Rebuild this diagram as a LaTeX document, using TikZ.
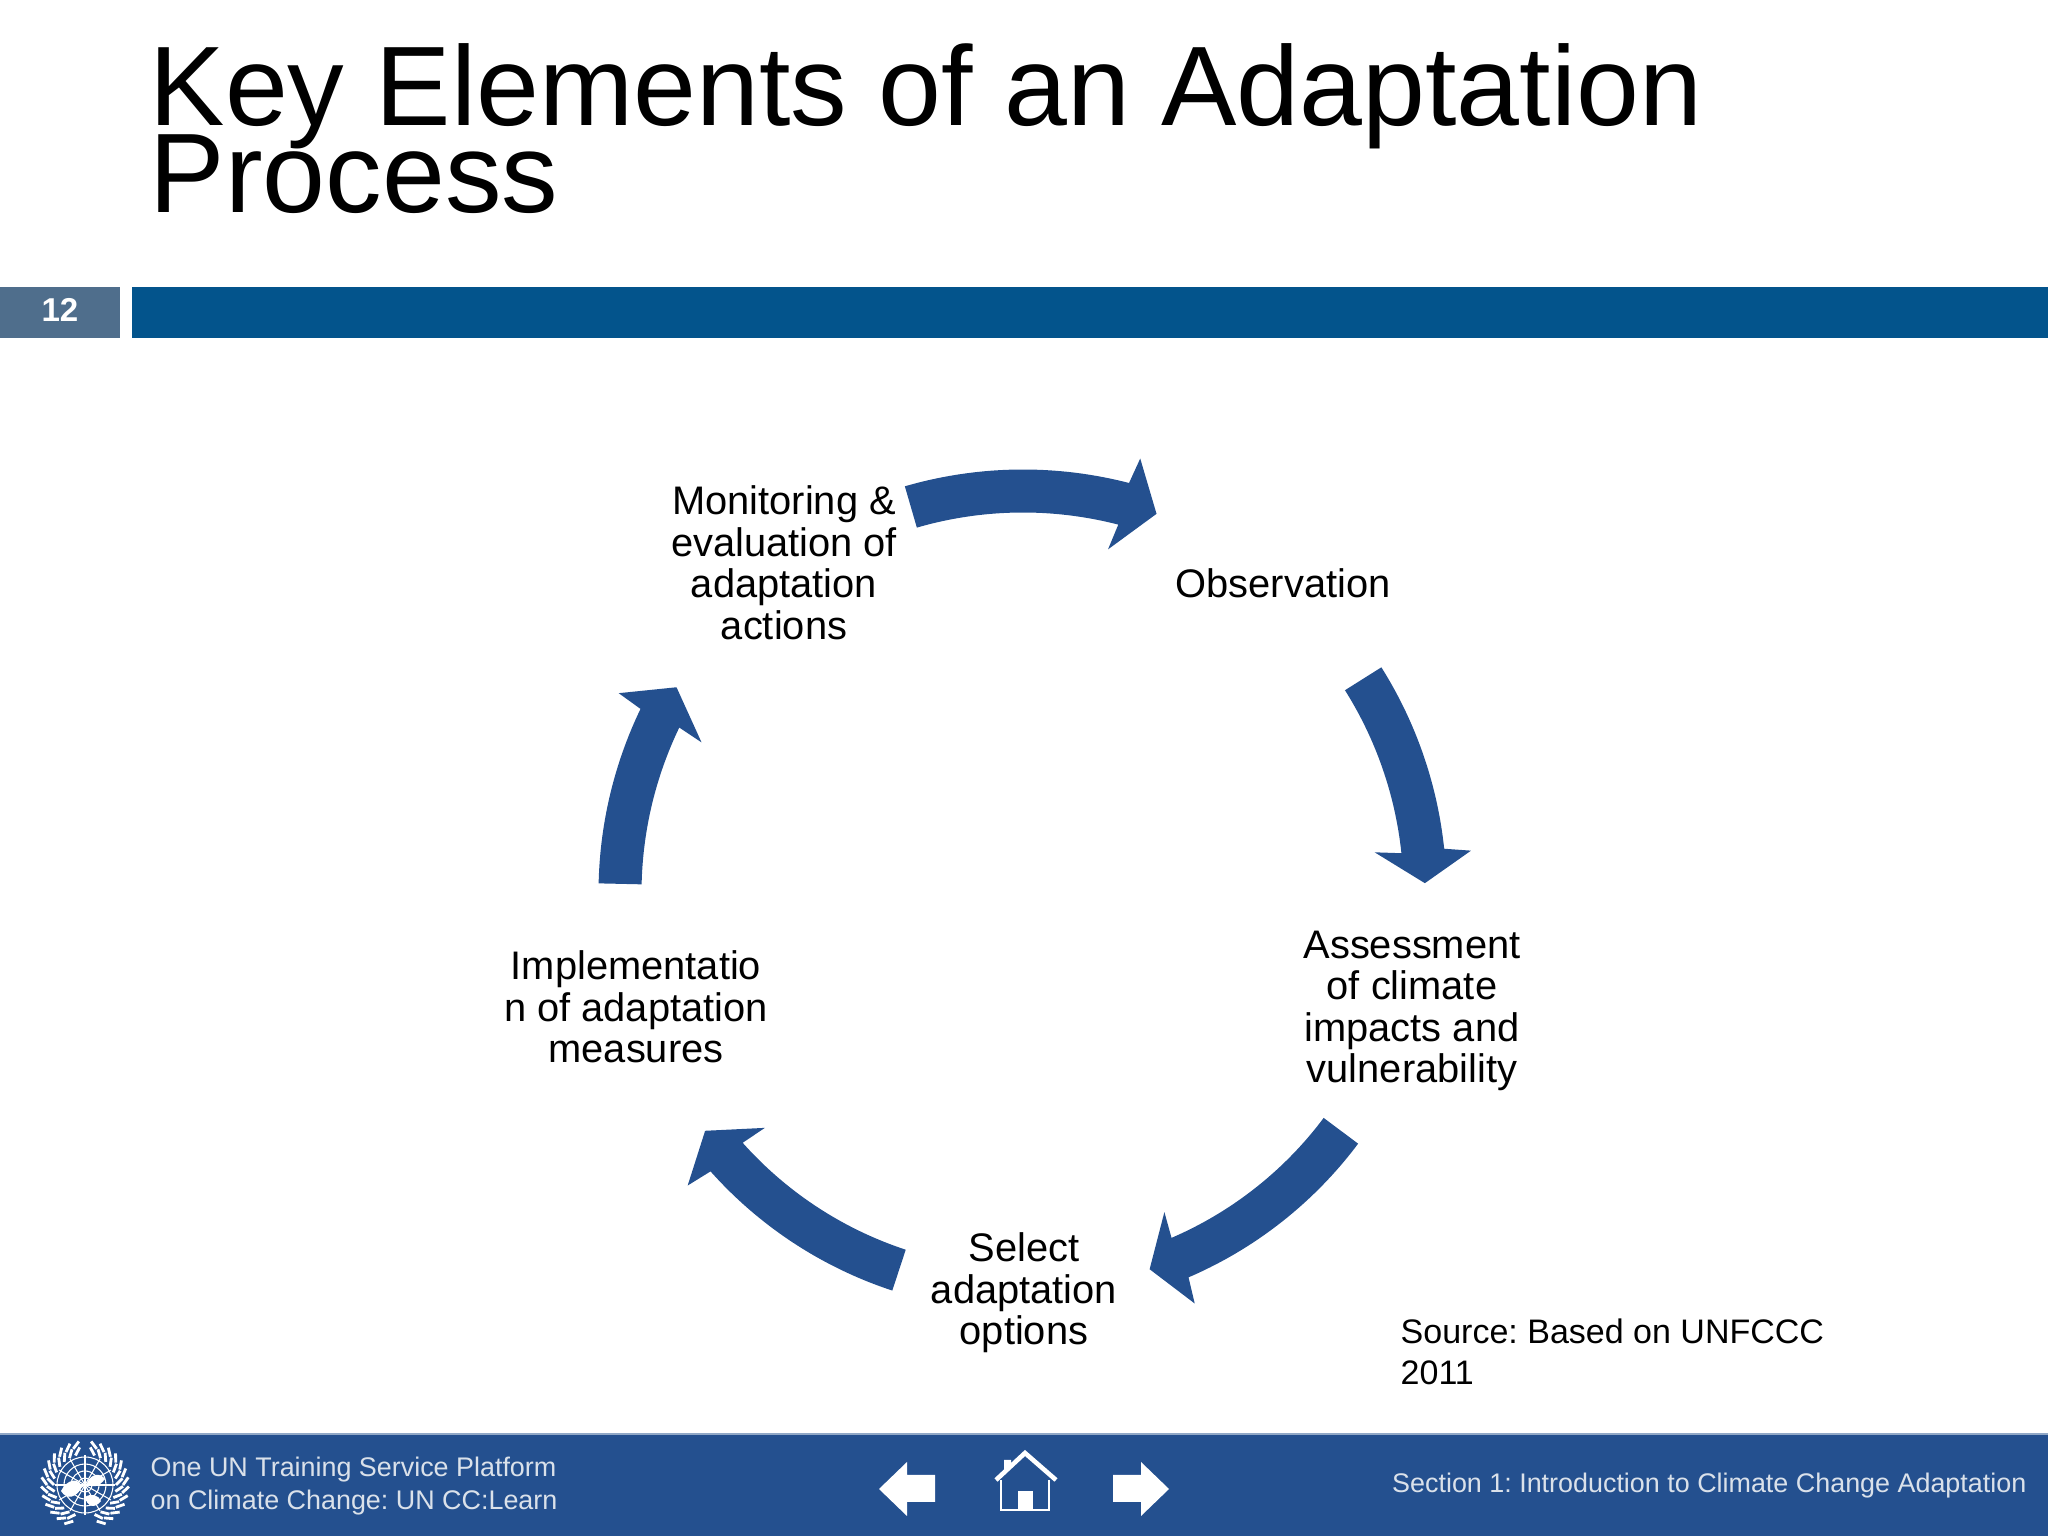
\documentclass[tikz,border=0pt]{standalone}
\usepackage{fontspec}
\setmainfont{Liberation Sans}
\frenchspacing
\definecolor{arrowblue}{RGB}{36,80,143}
\definecolor{barblue}{RGB}{3,84,140}
\definecolor{boxblue}{RGB}{79,110,140}
\definecolor{footertext}{RGB}{218,225,234}
\tikzset{
	cycletext/.style={align=center, inner sep=0pt, font=\fontsize{11.33}{11.8}\selectfont},
	footerline/.style={align=left, inner sep=0pt, text=footertext, font=\fontsize{7.65}{9.3}\selectfont},
	logoline/.style={draw=white, line width=0.3pt},
}
% tail angle, neck angle, tip angle, middle radius
\newcommand{\cyclearrow}[4]{
	\fill[arrowblue] ([shift={(cycle)}]#1:{#4+21.5}) arc[start angle=#1, end angle=#2, radius={#4+21.5}]
		-- ([shift={(cycle)}]{#2-0.6}:{#4+48}) -- ([shift={(cycle)}]#3:#4) -- ([shift={(cycle)}]{#2+0.6}:{#4-48})
		-- ([shift={(cycle)}]#2:{#4-21.5}) arc[start angle=#2, end angle=#1, radius={#4-21.5}] -- cycle;
}
\begin{document}
\begin{tikzpicture}[x=0.01cm, y=0.01cm]
	\useasboundingbox (0,0) rectangle (2048,1536);
	\coordinate (cycle) at (1023,643);
	% header
	\node (title) [anchor=west, align=left, inner sep=0pt, font=\fontsize{32.15}{24.2}\selectfont] at (149,1407) {Key Elements of an Adaptation\\[-5.1pt]Process};
	\fill[boxblue] (0,1198) rectangle (120,1249);
	\fill[barblue] (132,1198) rectangle (2048,1249);
	\node (page) [text=white, inner sep=0pt, font=\fontsize{9.4}{11}\selectfont\bfseries] at (60,1226) {12};
	% cycle
	\node (obs) [cycletext] at (1283,953) {Observation};
	\node (assess) [cycletext] at (1412,525) {Assessment\\of climate\\impacts and\\vulnerability};
	\node (select) [cycletext] at (1024,243) {Select\\adaptation\\options};
	\node (impl) [cycletext] at (636,529) {Implementatio\\n of adaptation\\measures};
	\node (monitor) [cycletext] at (784,973) {Monitoring \&\\evaluation of\\adaptation\\actions};
	\cyclearrow{106.2}{75.5}{70.6}{402}
	\cyclearrow{32.2}{6}{1.4}{402}
	\cyclearrow{-36.8}{-66.7}{-71.4}{397}
	\cyclearrow{251.8}{221.7}{216.8}{397}
	\cyclearrow{178.7}{154.3}{149.3}{403}
	\node (source) [anchor=west, align=left, inner sep=0pt, font=\fontsize{9.67}{11.5}\selectfont] at (1400,184) {Source: Based on UNFCCC\\2011};
	% footer
	\fill[arrowblue] (0,0) rectangle (2048,102);
	\draw[color=arrowblue!50!white, line width=0.5pt] (0,102) -- (2048,102);
	\node (platform) [footerline, anchor=west] at (150,50) {One UN Training Service Platform\\on Climate Change: UN CC:Learn};
	\node (section) [footerline, anchor=east] at (2027,50) {Section 1: Introduction to Climate Change Adaptation};
	% emblem
	\begin{scope}[shift={(85,51)}]
		\foreach \r in {7,14,21,28} \draw[logoline] (0,0) circle (\r);
		\foreach \a in {0,30,...,330} \draw[logoline] (0,0) -- (\a:30);
		\fill[white] (-24,-6) .. controls (-18,6) and (-6,8) .. (-3,-2) .. controls (-8,-12) and (-18,-16) .. (-24,-6);
		\fill[white] (2,2) .. controls (6,12) and (16,12) .. (20,6) .. controls (14,-2) and (6,-4) .. (2,2);
		\fill[white] (0,-12) .. controls (6,-8) and (14,-10) .. (16,-16) .. controls (10,-24) and (2,-22) .. (0,-12);
		\foreach \a in {-72,-60,...,72} {
			\draw[white, line width=0.8pt] (\a:31) -- (\a+10:38);
			\draw[white, line width=0.8pt] (\a:38) -- (\a+10:44);
			\draw[white, line width=0.8pt] (180-\a:31) -- (170-\a:38);
			\draw[white, line width=0.8pt] (180-\a:38) -- (170-\a:44);
		}
	\end{scope}
	% navigation
	\fill[white] (879,47) -- (907,74) -- (907,61) -- (935,61) -- (935,34) -- (907,34) -- (907,20) -- cycle;
	\fill[white] (1169,47) -- (1141,74) -- (1141,61) -- (1113,61) -- (1113,34) -- (1141,34) -- (1141,20) -- cycle;
	\draw[white, line width=0.6pt] (1001,56) -- (1001,26) -- (1049,26) -- (1049,56);
	\draw[white, line width=1.3pt] (996,56) -- (1025,83) -- (1056,56);
	\fill[white] (1004,64) -- (1004,76) -- (1011,76) -- (1011,72) -- cycle;
	\fill[white] (1018,26) rectangle (1033,45);
\end{tikzpicture}
\end{document}
